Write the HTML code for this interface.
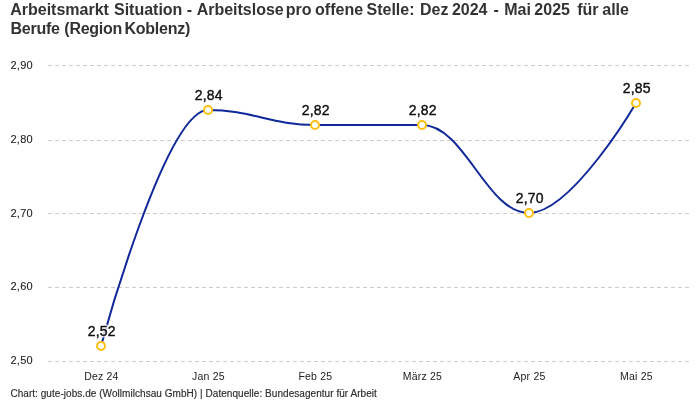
<!DOCTYPE html>
<html><head><meta charset="utf-8"><style>
html,body{margin:0;padding:0;background:#fff;width:700px;height:400px;overflow:hidden}
svg{display:block;will-change:transform;font-family:"Liberation Sans",sans-serif}
.t{font-weight:bold;font-size:16px;fill:#333}
.yl{font-size:11px;fill:#222;stroke:#222;stroke-width:0.1px;letter-spacing:0.23px}
.xl{font-size:10.5px;fill:#222;letter-spacing:0.2px}
.dh{font-size:14px;fill:#fff;stroke:#fff;stroke-width:3px;stroke-linejoin:round;opacity:.85}
.dl{font-size:14px;fill:#111;stroke:#111;stroke-width:0.4px;letter-spacing:0.2px}
.ft{font-size:10px;fill:#2b2b2b;stroke:#2b2b2b;stroke-width:0.15px}
</style></head><body>
<svg width="700" height="400" viewBox="0 0 700 400">
<text x="10.5" y="14.7" class="t"><tspan dx="-0.30">Arbeitsmarkt </tspan><tspan dx="0.60">Situation </tspan><tspan dx="-0.20">- </tspan><tspan dx="0.80">Arbeitslose </tspan><tspan dx="-2.40">pro </tspan><tspan dx="-1.00">offene </tspan><tspan dx="-1.00">Stelle: </tspan><tspan dx="1.00">Dez </tspan><tspan dx="-1.00">2024 </tspan><tspan dx="1.50">- </tspan><tspan dx="1.00">Mai </tspan><tspan dx="-1.00">2025 </tspan><tspan dx="2.90">für </tspan><tspan dx="-0.80">alle</tspan></text>
<text x="10.5" y="34" class="t" letter-spacing="-0.26"><tspan dx="0.00">Berufe </tspan><tspan dx="0.50">(Region </tspan><tspan dx="-1.70">Koblenz)</tspan></text>
<line x1="48" y1="65.5" x2="690" y2="65.5" stroke="#cccccc" stroke-width="1" stroke-dasharray="4 3"/>
<text x="10.5" y="68.5" class="yl">2,90</text>
<line x1="48" y1="140.5" x2="690" y2="140.5" stroke="#cccccc" stroke-width="1" stroke-dasharray="4 3"/>
<text x="10.5" y="143.0" class="yl">2,80</text>
<line x1="48" y1="213.5" x2="690" y2="213.5" stroke="#cccccc" stroke-width="1" stroke-dasharray="4 3"/>
<text x="10.5" y="216.5" class="yl">2,70</text>
<line x1="48" y1="287.5" x2="690" y2="287.5" stroke="#cccccc" stroke-width="1" stroke-dasharray="4 3"/>
<text x="10.5" y="290.0" class="yl">2,60</text>
<line x1="48" y1="361.5" x2="690" y2="361.5" stroke="#cccccc" stroke-width="1" stroke-dasharray="4 3"/>
<text x="10.5" y="364.0" class="yl">2,50</text>
<text x="101.4" y="379.6" class="xl" text-anchor="middle">Dez 24</text>
<text x="208.4" y="379.6" class="xl" text-anchor="middle">Jan 25</text>
<text x="315.4" y="379.6" class="xl" text-anchor="middle">Feb 25</text>
<text x="422.4" y="379.6" class="xl" text-anchor="middle">März 25</text>
<text x="529.4" y="379.6" class="xl" text-anchor="middle">Apr 25</text>
<text x="636.4" y="379.6" class="xl" text-anchor="middle">Mai 25</text>
<path d="M101.00,346.00C101.00,346.00,165.20,110.00,208.00,110.00C250.80,110.00,272.20,125.00,315.00,125.00C357.80,125.00,379.20,125.00,422.00,125.00C464.80,125.00,486.20,213.00,529.00,213.00C571.80,213.00,636.00,103.00,636.00,103.00" fill="none" stroke="#10289a" stroke-width="2"/>
<circle cx="101" cy="346.00" r="4" fill="#fff" stroke="#fdc010" stroke-width="2"/>
<circle cx="208" cy="110.00" r="4" fill="#fff" stroke="#fdc010" stroke-width="2"/>
<circle cx="315" cy="125.00" r="4" fill="#fff" stroke="#fdc010" stroke-width="2"/>
<circle cx="422" cy="125.00" r="4" fill="#fff" stroke="#fdc010" stroke-width="2"/>
<circle cx="529" cy="213.00" r="4" fill="#fff" stroke="#fdc010" stroke-width="2"/>
<circle cx="636" cy="103.00" r="4" fill="#fff" stroke="#fdc010" stroke-width="2"/>
<text x="101.8" y="336.20" class="dh" text-anchor="middle">2,52</text>
<text x="101.8" y="336.20" class="dl" text-anchor="middle">2,52</text>
<text x="208.8" y="100.20" class="dh" text-anchor="middle">2,84</text>
<text x="208.8" y="100.20" class="dl" text-anchor="middle">2,84</text>
<text x="315.8" y="115.20" class="dh" text-anchor="middle">2,82</text>
<text x="315.8" y="115.20" class="dl" text-anchor="middle">2,82</text>
<text x="422.8" y="115.20" class="dh" text-anchor="middle">2,82</text>
<text x="422.8" y="115.20" class="dl" text-anchor="middle">2,82</text>
<text x="529.8" y="203.20" class="dh" text-anchor="middle">2,70</text>
<text x="529.8" y="203.20" class="dl" text-anchor="middle">2,70</text>
<text x="636.8" y="93.20" class="dh" text-anchor="middle">2,85</text>
<text x="636.8" y="93.20" class="dl" text-anchor="middle">2,85</text>
<text x="10.4" y="397.4" class="ft" letter-spacing="0.05">Chart: gute-jobs.de (Wollmilchsau GmbH) | Datenquelle: Bundesagentur für Arbeit</text>
</svg>
</body></html>
